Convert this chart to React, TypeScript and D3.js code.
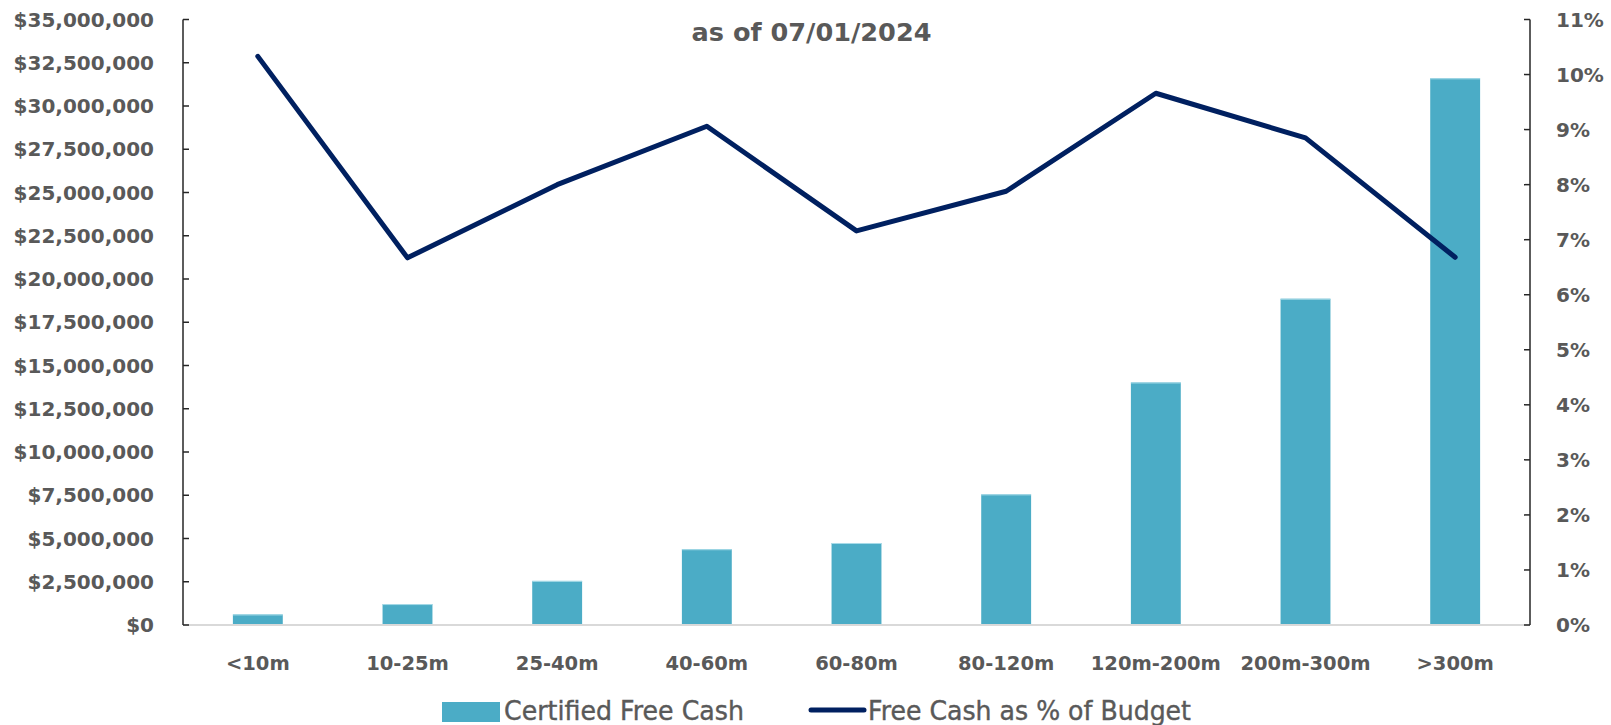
import React from "react";
import * as d3 from "d3";

const categories = ["<10m", "10-25m", "25-40m", "40-60m", "60-80m", "80-120m", "120m-200m", "200m-300m", ">300m"];
const certifiedFreeCash = [610000, 1210000, 2550000, 4380000, 4740000, 7550000, 14020000, 18860000, 31600000];
const pctOfBudget = [10.33, 6.67, 8.0, 9.06, 7.16, 7.88, 9.66, 8.85, 6.68];
const leftTicks = d3.range(0, 35000001, 2500000);
const rightTicks = d3.range(0, 12, 1);
const subtitle = "as of 07/01/2024";
const legendLabels = ["Certified Free Cash", "Free Cash as % of Budget"];

const W = 1611;
const H = 725;
const plot = { left: 183, right: 1530, top: 19.5, bottom: 625 };
const FONT = "'DejaVu Sans', sans-serif";
const GRAY = "#595959";
const BAR = "#4BACC6";
const LINE = "#002060";

export default function App() {
  const x = d3.scaleBand<string>().domain(categories).range([plot.left, plot.right]).paddingInner(0).paddingOuter(0);
  const yL = d3.scaleLinear().domain([0, 35000000]).range([plot.bottom, plot.top]);
  const yR = d3.scaleLinear().domain([0, 11]).range([plot.bottom, plot.top]);
  const bw = x.bandwidth() / 3;
  const fmtL = d3.format("$,");
  const line = d3
    .line<number>()
    .x((_, i) => (x(categories[i]) as number) + x.bandwidth() / 2)
    .y((d) => yR(d));

  return (
    <svg width={W} height={H} style={{ position: "absolute", left: 0, top: 0, background: "#fff" }}>
      <rect x={0} y={0} width={W} height={H} fill="#fff" />
      {/* subtitle */}
      <text x={811.5} y={40.5} textAnchor="middle" fontFamily={FONT} fontWeight="bold" fontSize={24} fill={GRAY} textLength={240} lengthAdjust="spacingAndGlyphs">
        {subtitle}
      </text>

      {/* bars */}
      {certifiedFreeCash.map((v, i) => {
        const cx = (x(categories[i]) as number) + x.bandwidth() / 2;
        return (
          <g key={categories[i]}>
            <rect x={cx - bw / 2} y={yL(v)} width={bw} height={yL(0) - yL(v)} fill={BAR} />
            <line x1={cx - bw / 2} x2={cx + bw / 2} y1={yL(v) + 0.5} y2={yL(v) + 0.5} stroke="#a8dbe8" strokeWidth={1} />
          </g>
        );
      })}

      {/* baseline */}
      <line x1={plot.left} x2={plot.right} y1={plot.bottom} y2={plot.bottom} stroke="#d9d9d9" strokeWidth={2} />

      {/* left axis */}
      <line x1={plot.left} x2={plot.left} y1={plot.top} y2={plot.bottom} stroke="#262626" strokeWidth={1.5} />
      {leftTicks.map((t) => (
        <g key={"l" + t}>
          <line x1={plot.left} x2={plot.left + 6} y1={yL(t)} y2={yL(t)} stroke="#262626" strokeWidth={1.5} />
          <text x={154} y={yL(t)} dy="0.36em" textAnchor="end" fontFamily={FONT} fontWeight="bold" fontSize={20} fill={GRAY}>
            {fmtL(t)}
          </text>
        </g>
      ))}

      {/* right axis */}
      <line x1={plot.right} x2={plot.right} y1={plot.top} y2={plot.bottom} stroke="#262626" strokeWidth={1.5} />
      {rightTicks.map((t) => (
        <g key={"r" + t}>
          <line x1={plot.right - 6} x2={plot.right} y1={yR(t)} y2={yR(t)} stroke="#262626" strokeWidth={1.5} />
          <text x={1556} y={yR(t)} dy="0.36em" textAnchor="start" fontFamily={FONT} fontWeight="bold" fontSize={20} fill={GRAY}>
            {t + "%"}
          </text>
        </g>
      ))}

      {/* category labels */}
      {categories.map((c) => (
        <text key={c} x={(x(c) as number) + x.bandwidth() / 2} y={663} dy="0.36em" textAnchor="middle" fontFamily={FONT} fontWeight="bold" fontSize={19.5} fill={GRAY}>
          {c}
        </text>
      ))}

      {/* line */}
      <path d={line(pctOfBudget) || ""} fill="none" stroke={LINE} strokeWidth={5} strokeLinejoin="round" strokeLinecap="round" />

      {/* legend */}
      <rect x={442} y={702} width={58} height={20} fill={BAR} />
      <text x={504} y={720} fontFamily={FONT} fontSize={26} fill={GRAY} stroke={GRAY} strokeWidth={0.4} textLength={240} lengthAdjust="spacingAndGlyphs">
        {legendLabels[0]}
      </text>
      <line x1={811} x2={864} y1={710} y2={710} stroke={LINE} strokeWidth={5} strokeLinecap="round" />
      <text x={868} y={720} fontFamily={FONT} fontSize={26} fill={GRAY} stroke={GRAY} strokeWidth={0.4} textLength={323} lengthAdjust="spacingAndGlyphs">
        {legendLabels[1]}
      </text>
    </svg>
  );
}
